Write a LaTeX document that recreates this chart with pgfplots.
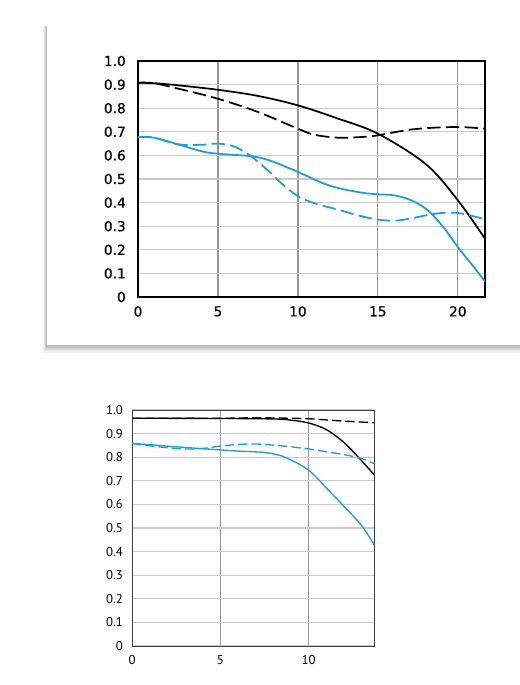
\documentclass[border=0pt]{standalone}
\usepackage{pgfplots}
\pgfplotsset{compat=1.18}
\usepackage{fontspec}
\newfontfamily\topfont[FakeBold=0.6]{DejaVu Sans}
\newfontfamily\botfont{PT Sans}
\definecolor{mtfblue}{RGB}{28,156,216}
\definecolor{vgrid}{RGB}{150,150,150}
\definecolor{hgrid}{RGB}{200,200,200}

\pgfplotsset{
  mtf/.style={
    scale only axis,
    anchor=south west,
    ymin=0, ymax=1,
    ytick={0,0.1,...,1.0},
    yticklabels={0,0.1,0.2,0.3,0.4,0.5,0.6,0.7,0.8,0.9,1.0},
    /pgf/number format/assume math mode=true,
    major tick length=0pt,
    xmajorgrids, ymajorgrids,
    x grid style={vgrid, line width=0.9pt},
    y grid style={hgrid, line width=0.9pt},
    every axis plot/.append style={smooth, tension=0.55},
  },
}

\begin{document}
\begin{tikzpicture}
\useasboundingbox (0,0) rectangle (390pt,513.75pt);

% card with soft shadow behind the upper chart
\foreach \i in {1,...,6}
  \fill[black, opacity=0.05] (35.25pt-\i*0.45pt,255pt-\i*0.95pt) rectangle (392pt,494pt);
\fill[white] (35.25pt,255pt) rectangle (392pt,500pt);

% ---------------- 50mm ----------------
\begin{axis}[mtf,
  at={(103.5pt,291pt)},
  width=260.25pt, height=177pt,
  xmin=0, xmax=21.7,
  xtick={0,5,10,15,20},
  axis line style={black, line width=0.8pt},
  ticklabel style={font=\topfont\fontsize{10.3}{12}\selectfont},
  yticklabel style={inner sep=0pt, xshift=-9pt},
  xticklabel style={inner sep=0pt, yshift=-6.75pt},
  every axis plot/.append style={line width=1.3pt},
]
\addplot[black] coordinates {
 (0,0.908) (1,0.906) (2.5,0.897) (5,0.878) (7.5,0.852) (10,0.812)
 (12.5,0.756) (15,0.692) (18,0.563) (20,0.41) (21.7,0.247)};
\addplot[black, dash pattern=on 10pt off 4pt] coordinates {
 (0,0.908) (1,0.906) (2.5,0.883) (5,0.84) (7.5,0.784) (10,0.713)
 (11,0.688) (12.5,0.675) (14,0.678) (15,0.685) (17,0.709) (19,0.719)
 (20.5,0.719) (21.7,0.713)};
\addplot[mtfblue] coordinates {
 (0,0.678) (1,0.675) (2.5,0.647) (4,0.617) (5,0.607) (6.5,0.6)
 (7.5,0.592) (8.5,0.572) (10,0.53) (11.5,0.484) (12.5,0.462)
 (14,0.442) (15,0.435) (16,0.431) (17,0.412) (18,0.374) (19,0.304)
 (20,0.212) (21,0.127) (21.7,0.066)};
\addplot[mtfblue, dash pattern=on 10pt off 4pt] coordinates {
 (0,0.678) (1,0.675) (2.5,0.647) (4,0.645) (5,0.65) (6,0.638)
 (7,0.6) (8,0.544) (9,0.48) (10,0.427) (11,0.398) (12.5,0.37)
 (14,0.342) (15,0.328) (16,0.323) (17,0.332) (18,0.346) (19,0.356)
 (20,0.356) (21,0.342) (21.7,0.328)};
\node[anchor=south east, inner sep=0pt, yshift=4.2pt,
      font=\topfont\fontsize{8.9}{10}\selectfont]
  at (rel axis cs:1,1) {\scalebox{1.3}[1]{50mm}};
\end{axis}

% ---------------- 32mm ----------------
\begin{axis}[mtf,
  at={(99pt,29.25pt)},
  width=181.5pt, height=177pt,
  xmin=0, xmax=13.7,
  xtick={0,5,10},
  axis line style={black!75, line width=0.6pt},
  ticklabel style={font=\botfont\fontsize{9.6}{11}\selectfont},
  yticklabel style={inner sep=0pt, xshift=-6.75pt},
  xticklabel style={inner sep=0pt, yshift=-7.1pt},
  x grid style={vgrid, line width=0.6pt},
  y grid style={hgrid, line width=0.9pt},
  every axis plot/.append style={line width=1pt},
]
\addplot[black] coordinates {
 (0,0.965) (5,0.964) (8,0.962) (9,0.957) (10,0.945) (11,0.917)
 (12,0.862) (13,0.785) (13.7,0.726)};
\addplot[black, dash pattern=on 7pt off 3pt] coordinates {
 (0,0.965) (5,0.965) (7,0.967) (9,0.965) (10,0.963) (11,0.958)
 (12,0.953) (13.7,0.946)};
\addplot[mtfblue] coordinates {
 (0,0.859) (2,0.847) (4,0.836) (6,0.826) (7.5,0.82) (8.5,0.805)
 (9,0.788) (10,0.745) (11,0.67) (12,0.592) (13,0.51) (13.7,0.43)};
\addplot[mtfblue, dash pattern=on 7pt off 3pt] coordinates {
 (0,0.858) (1.5,0.844) (3,0.835) (4,0.837) (5,0.847) (6,0.854)
 (7,0.856) (8,0.851) (9,0.844) (10,0.835) (11,0.823) (12,0.811)
 (13,0.794) (13.7,0.773)};
\node[anchor=south east, inner sep=0pt, yshift=3.75pt,
      font=\botfont\fontsize{8.6}{10}\selectfont]
  at (rel axis cs:1,1) {32mm};
\end{axis}
\end{tikzpicture}
\end{document}
